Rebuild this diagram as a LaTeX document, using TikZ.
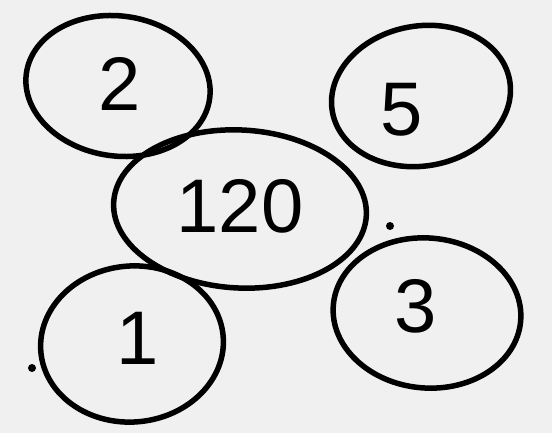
\documentclass[tikz,border=0pt]{standalone}
\usepackage{fontspec}
\setmainfont{Liberation Sans}
\usetikzlibrary{shapes.geometric}
\definecolor{bgc}{RGB}{240,240,240}
\begin{document}
\begin{tikzpicture}[x=1pt,y=-1pt,
  blob/.style={draw=black,line width=5.5pt,ellipse,inner sep=0pt},
  num/.style={font=\fontsize{76}{76}\selectfont,text=black},
  dot/.style={fill=black,circle,inner sep=0pt,minimum size=8pt}]
\fill[bgc] (0,0) rectangle (552,433);
\useasboundingbox (0,0) rectangle (552,433);
\node[blob,minimum width=185pt,minimum height=140pt,rotate=-8] (c2) at (118,86) {};
\node[blob,minimum width=180pt,minimum height=140pt,rotate=10] (c5) at (421,96) {};
\node[blob,minimum width=253pt,minimum height=158pt,rotate=-3] (c120) at (240,209) {};
\node[blob,minimum width=183pt,minimum height=156pt,rotate=5] (c1) at (132,344) {};
\node[blob,minimum width=188pt,minimum height=150pt,rotate=-5] (c3) at (427,313) {};
\node[num] (t2) at (120,84) {2};
\node[num] (t5) at (402,110) {5};
\node[num] (t120) at (240,206) {120};
\node[num] (t1) at (138,338) {1};
\node[num] (t3) at (416,306) {3};
\node[dot] (d1) at (390,226) {};
\node[dot] (d2) at (32,368) {};
\end{tikzpicture}
\end{document}
